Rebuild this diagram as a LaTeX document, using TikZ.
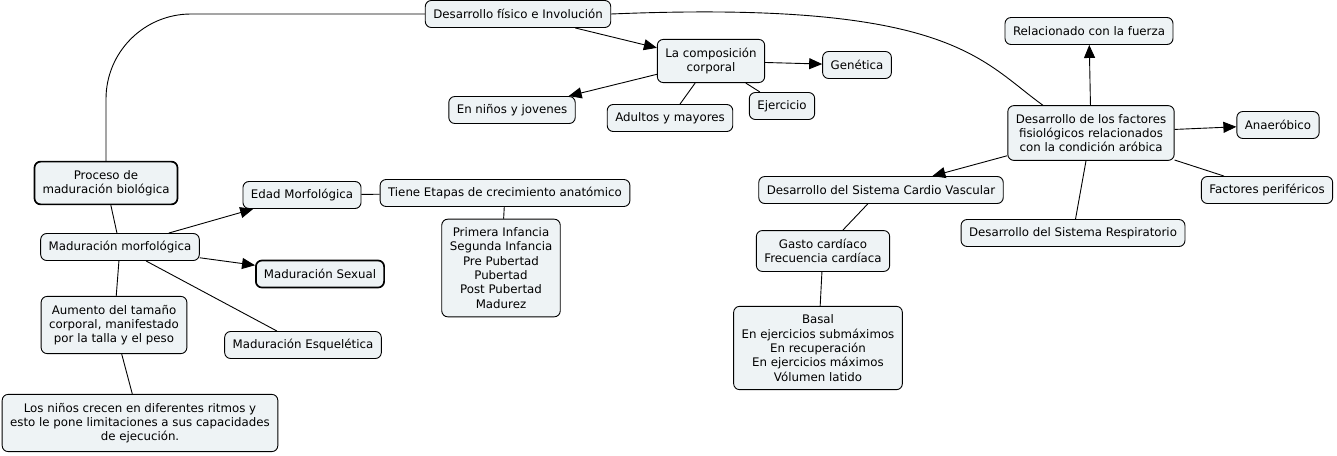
\documentclass[tikz,border=0pt]{standalone}
\usepackage{fontspec}
\setmainfont{DejaVu Sans}
\usetikzlibrary{arrows.meta, positioning, calc}
\definecolor{cfill}{HTML}{EEF3F5}
\tikzset{
  every picture/.style={line width=0.9pt, x=1pt, y=-1pt},
  concept/.style={draw, fill=cfill, rounded corners=6pt, align=center, inner xsep=8pt, inner ysep=5pt,
    minimum height=27pt, font=\fontsize{11.8}{14.3}\selectfont},
  multi/.style={concept, inner ysep=8.5pt},
  keyconcept/.style={concept, line width=1.7pt},
  link/.style={draw, line width=0.9pt},
  arrow/.style={link, -{Triangle[length=13pt, width=11pt]}},
}
\begin{document}
\begin{tikzpicture}
  \useasboundingbox (0,0) rectangle (1337,455);
  % top branch
  \node[concept] (dfis) at (518,14) {Desarrollo físico e Involución};
  \node[multi] (comp) at (711,61) {La composición\\corporal};
  \node[concept] (gen) at (857,65) {Genética};
  \node[concept] (ninos) at (512,110) {En niños y jovenes};
  \node[concept] (adul) at (670,118) {Adultos y mayores};
  \node[concept] (ejer) at (782,106) {Ejercicio};
  % right branch
  \node[multi] (dfac) at (1091,133) {Desarrollo de los factores\\fisiológicos relacionados\\con la condición aróbica};
  \node[concept] (fuer) at (1089,31) {Relacionado con la fuerza};
  \node[concept] (anae) at (1278,125) {Anaeróbico};
  \node[concept] (peri) at (1267,190) {Factores periféricos};
  \node[concept] (resp) at (1073,233) {Desarrollo del Sistema Respiratorio};
  \node[concept] (card) at (881,190) {Desarrollo del Sistema Cardio Vascular};
  \node[multi] (gast) at (823,251) {Gasto cardíaco\\Frecuencia cardíaca};
  \node[multi] (basal) at (818,348) {Basal\\En ejercicios submáximos\\En recuperación\\En ejercicios máximos\\Vólumen latido};
  % left branch
  \node[multi, line width=1.7pt] (proc) at (106,183) {Proceso de\\maduración biológica};
  \node[concept] (edad) at (302,195) {Edad Morfológica};
  \node[concept] (etap) at (505,193) {Tiene Etapas de crecimiento anatómico};
  \node[multi] (infa) at (501,268) {Primera Infancia\\Segunda Infancia\\Pre Pubertad\\Pubertad\\Post Pubertad\\Madurez};
  \node[concept] (morf) at (120,247) {Maduración morfológica};
  \node[keyconcept] (sexu) at (320,274) {Maduración Sexual};
  \node[multi] (aume) at (114,325) {Aumento del tamaño\\corporal, manifestado\\por la talla y el peso};
  \node[concept] (esqu) at (303,345) {Maduración Esquelética};
  \node[multi] (rit) at (140,423) {Los niños crecen en diferentes ritmos y\\esto le pone limitaciones a sus capacidades\\de ejecución.};

  % links
  \draw[link, rounded corners=85pt] (proc.north) -- (proc.north |- dfis.west) -- (dfis.west);
  \draw[link] (dfis.east) .. controls (950,0) and (980,60) .. (dfac.150);
  \draw[arrow] (dfis) -- (comp);
  \draw[arrow] (comp) -- (gen);
  \draw[arrow] (comp) -- (ninos);
  \draw[link] (comp) -- (adul);
  \draw[link] (comp) -- (ejer);
  \draw[arrow] (dfac) -- (fuer);
  \draw[arrow] (dfac) -- (anae);
  \draw[link] (dfac) -- (peri);
  \draw[link] (dfac) -- (resp);
  \draw[arrow] (dfac) -- (card);
  \draw[link] (card) -- (gast);
  \draw[link] (gast) -- (basal);
  \draw[link] (proc) -- (morf);
  \draw[arrow] (morf) -- (edad);
  \draw[arrow] (morf) -- (sexu);
  \draw[link] (morf) -- (esqu);
  \draw[link] (morf) -- (aume);
  \draw[link] (aume) -- (rit);
  \draw[link] (edad) -- (etap);
  \draw[link] (etap) -- (infa);
\end{tikzpicture}
\end{document}
